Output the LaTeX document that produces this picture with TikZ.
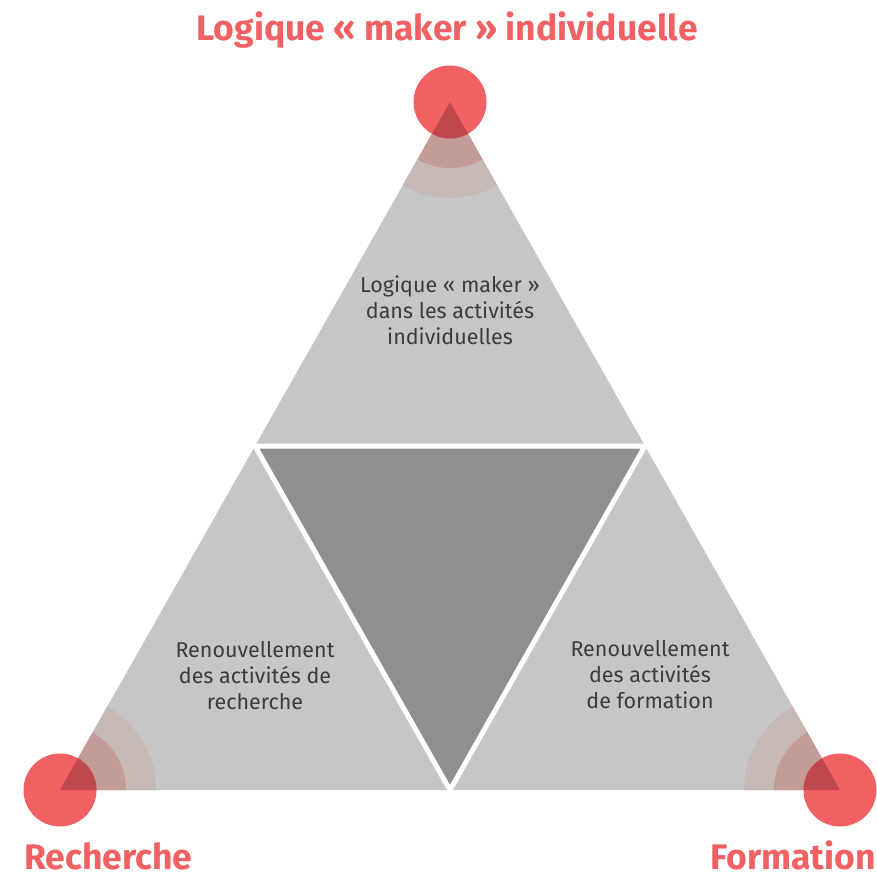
\documentclass[tikz,border=0pt]{standalone}
\usepackage{fontspec}
\setmainfont{Fira Sans}
\definecolor{trigray}{HTML}{C6C6C6}
\definecolor{midgray}{HTML}{8E8F91}
\definecolor{bandout}{HTML}{C6B8B5}
\definecolor{bandin}{HTML}{C39B97}
\definecolor{dotred}{HTML}{F16163}
\definecolor{dotdark}{HTML}{C0494E}
\definecolor{textgray}{HTML}{3A3D40}
\tikzset{
  caption/.style={font=\fontsize{35.5}{40}\selectfont\bfseries, text=dotred, inner sep=0pt},
  body/.style={font=\fontsize{21.5}{26}\selectfont, text=textgray, align=center},
  gap/.style={draw=white, line width=5pt}
}

\begin{document}
\begin{tikzpicture}[x=1pt,y=-1pt]
\useasboundingbox (0,0) rectangle (877,877);
\coordinate (apex) at (450,102);
\coordinate (left) at (60,790);
\coordinate (right) at (840,790);
\coordinate (midL) at (255,446);
\coordinate (midR) at (645,446);
\coordinate (midB) at (450,790);

% triangle with rings at the corners
\begin{scope}
\clip (apex) -- (left) -- (right) -- cycle;
\fill[trigray] (0,0) rectangle (877,877);
\foreach \c in {apex,left,right} {
    \fill[bandout] (\c) circle (96);
    \fill[bandin] (\c) circle (66);
}
\fill[midgray] (midL) -- (midR) -- (midB) -- cycle;
\end{scope}
\draw[gap] (midL) -- (midR) -- (midB) -- cycle;

% red dots
\foreach \c in {apex,left,right} {
    \fill[dotred] (\c) circle (36.5);
    \begin{scope}
    \clip (apex) -- (left) -- (right) -- cycle;
    \fill[dotdark] (\c) circle (36.5);
    \end{scope}
}

\node[caption, anchor=base] (topname) at (447,41) {Logique « maker » individuelle};
\node[caption, anchor=base west] (leftname) at (24,869) {Recherche};
\node[caption, anchor=base east] (rightname) at (876,869) {Formation};

\node[body] (toptext) at (450,310) {Logique « maker »\\dans les activités\\individuelles};
\node[body] (lefttext) at (255,676) {Renouvellement\\des activités de\\recherche};
\node[body] (righttext) at (650,675) {Renouvellement\\des activités\\de formation};
\end{tikzpicture}
\end{document}
